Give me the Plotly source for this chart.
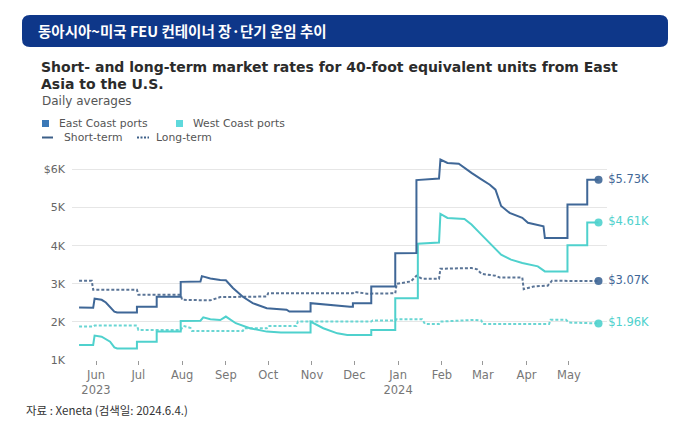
import plotly.graph_objects as go

# East Coast short-term (USD / FEU)
east_short_dates = [
    "2023-05-20", "2023-05-30", "2023-05-31", "2023-06-05", "2023-06-08", "2023-06-11",
    "2023-06-14", "2023-06-16", "2023-06-30", "2023-06-30", "2023-07-14", "2023-07-14",
    "2023-07-31", "2023-07-31", "2023-08-14", "2023-08-15", "2023-08-21", "2023-08-28",
    "2023-09-01", "2023-09-06", "2023-09-13", "2023-09-20", "2023-09-30", "2023-10-14",
    "2023-10-16", "2023-10-31", "2023-10-31", "2023-11-28", "2023-11-30", "2023-11-30",
    "2023-12-13", "2023-12-13", "2023-12-30", "2023-12-30", "2024-01-14", "2024-01-14",
    "2024-01-30", "2024-01-31", "2024-02-05", "2024-02-13", "2024-02-17", "2024-02-22",
    "2024-02-29", "2024-03-06", "2024-03-10", "2024-03-14", "2024-03-20", "2024-03-29",
    "2024-04-02", "2024-04-13", "2024-04-14", "2024-04-30", "2024-04-30", "2024-05-14",
    "2024-05-14", "2024-05-22",
]
east_short = [
    2380, 2370, 2610, 2580, 2510, 2400,
    2270, 2245, 2245, 2400, 2400, 2660,
    2660, 3050, 3060, 3200, 3140, 3100,
    3090, 2890, 2660, 2490, 2360, 2320,
    2270, 2270, 2490, 2400, 2400, 2490,
    2490, 2930, 2930, 3800, 3810, 5720,
    5760, 6260, 6170, 6150, 6040, 5910,
    5740, 5600, 5470, 5040, 4860, 4730,
    4600, 4510, 4200, 4200, 5080, 5080,
    5730, 5730,
]

# West Coast short-term
west_short_dates = [
    "2023-05-20", "2023-05-30", "2023-05-31", "2023-06-05", "2023-06-11", "2023-06-14",
    "2023-06-16", "2023-06-30", "2023-06-30", "2023-07-14", "2023-07-14", "2023-07-31",
    "2023-07-31", "2023-08-14", "2023-08-16", "2023-08-21", "2023-08-28", "2023-09-01",
    "2023-09-08", "2023-09-18", "2023-09-30", "2023-10-10", "2023-10-31", "2023-10-31",
    "2023-11-09", "2023-11-19", "2023-11-26", "2023-12-13", "2023-12-13", "2023-12-30",
    "2023-12-30", "2024-01-15", "2024-01-15", "2024-01-30", "2024-01-31", "2024-02-05",
    "2024-02-17", "2024-02-22", "2024-02-29", "2024-03-06", "2024-03-14", "2024-03-21",
    "2024-03-29", "2024-04-09", "2024-04-14", "2024-04-30", "2024-04-30", "2024-05-14",
    "2024-05-14", "2024-05-22",
]
west_short = [
    1395, 1395, 1640, 1610, 1480, 1330,
    1305, 1305, 1480, 1480, 1745, 1745,
    2026, 2030, 2120, 2070, 2050, 2140,
    1965, 1833, 1745, 1720, 1720, 2008,
    1833, 1700, 1658, 1658, 1790, 1790,
    2623, 2623, 4053, 4080, 4833, 4728,
    4700, 4553, 4290, 4070, 3763, 3632,
    3544, 3456, 3324, 3324, 4008, 4008,
    4610, 4610,
]

# East Coast long-term
east_long_dates = [
    "2023-05-20", "2023-05-29", "2023-05-30", "2023-06-30", "2023-07-01", "2023-07-31",
    "2023-08-01", "2023-08-21", "2023-08-28", "2023-09-30", "2023-10-01", "2023-11-30",
    "2023-12-01", "2023-12-10", "2023-12-30", "2023-12-31", "2024-01-10", "2024-01-14",
    "2024-01-18", "2024-01-30", "2024-01-31", "2024-02-22", "2024-02-26", "2024-02-29",
    "2024-03-10", "2024-03-13", "2024-03-29", "2024-03-30", "2024-04-06", "2024-04-16",
    "2024-04-19", "2024-05-22",
]
east_long = [
    3079, 3079, 2842, 2842, 2710, 2710,
    2579, 2565, 2650, 2666, 2754, 2754,
    2790, 2740, 2750, 3000, 3060, 3210,
    3130, 3130, 3395, 3412, 3380, 3263,
    3210, 3166, 3166, 2860, 2930, 2950,
    3079, 3070,
]

# West Coast long-term
west_long_dates = [
    "2023-05-20", "2023-05-30", "2023-05-31", "2023-06-30", "2023-07-01", "2023-07-31",
    "2023-08-02", "2023-08-07", "2023-08-08", "2023-09-13", "2023-09-14", "2023-09-30",
    "2023-10-01", "2023-10-21", "2023-10-22", "2023-12-13", "2023-12-14", "2023-12-30",
    "2023-12-31", "2024-01-18", "2024-01-20", "2024-01-30", "2024-01-31", "2024-02-20",
    "2024-02-24", "2024-02-29", "2024-03-01", "2024-04-17", "2024-04-18", "2024-04-29",
    "2024-05-01", "2024-05-22",
]
west_long = [
    1877, 1877, 1903, 1903, 1790, 1790,
    1895, 1840, 1763, 1763, 1833, 1833,
    1895, 1895, 2008, 2008, 2035, 2035,
    2070, 2070, 1947, 1947, 2008, 2030,
    2053, 2035, 1947, 1947, 2053, 2053,
    1982, 1960,
]

month_ticks = ["2023-06-01", "2023-07-01", "2023-08-01", "2023-09-01", "2023-10-01",
               "2023-11-01", "2023-12-01", "2024-01-01", "2024-02-01", "2024-03-01",
               "2024-04-01", "2024-05-01"]
month_labels = ["Jun<br>2023", "Jul", "Aug", "Sep", "Oct", "Nov", "Dec",
                "Jan<br>2024", "Feb", "Mar", "Apr", "May"]
y_ticks = [1000, 2000, 3000, 4000, 5000, 6000]
y_labels = ["1K", "2K", "3K", "4K", "5K", "$6K"]

EAST = "#3f6797"
EAST_LONG = "#5a7496"
WEST = "#4fd1cd"
WEST_LONG = "#6ad6d3"
FONT = "DejaVu Sans"

# plot area in pixels: x 72..607, y 158..360
L, R, T, B = 72, 81, 158, 75
W_PLOT, H_PLOT = 688 - L - R, 435 - T - B


def px(x):
    return (x - L) / W_PLOT


def py(y):
    return (435 - B - y) / H_PLOT


series = [
    (east_long_dates, east_long, EAST_LONG, "3px,2px", EAST),
    (west_long_dates, west_long, WEST_LONG, "3px,2px", WEST),
    (west_short_dates, west_short, WEST, "solid", WEST),
    (east_short_dates, east_short, EAST, "solid", EAST),
]

fig = go.Figure()
for dates, vals, col, dash, lab_col in series:
    fig.add_trace(go.Scatter(
        x=dates, y=vals, mode="lines",
        line=dict(color=col, width=2, dash=dash),
        hoverinfo="skip", showlegend=False,
    ))
    fig.add_trace(go.Scatter(
        x=[dates[-1]], y=[vals[-1]], mode="markers+text",
        marker=dict(color=lab_col, size=8, opacity=0.9),
        text=[" $%.2fK" % (vals[-1] / 1000)], textposition="middle right",
        textfont=dict(family=FONT, size=11.5, color=lab_col),
        cliponaxis=False, hoverinfo="skip", showlegend=False,
    ))

shapes = []
# navy header bar with rounded corners (pixels from paper origin)
shapes.append(dict(
    type="path", xref="paper", yref="paper", xsizemode="pixel", ysizemode="pixel",
    xanchor=0, yanchor=0,
    path="M -42,313 L 588,313 Q 596,313 596,321 L 596,337 Q 596,345 588,345 "
         "L -42,345 Q -50,345 -50,337 L -50,321 Q -50,313 -42,313 Z",
    fillcolor="#0e3789", line=dict(width=0), layer="above",
))
# legend swatches
shapes.append(dict(type="rect", xref="paper", yref="paper",
                   x0=px(42), x1=px(49), y0=py(127), y1=py(120),
                   fillcolor="#3a78b7", line=dict(width=0)))
shapes.append(dict(type="rect", xref="paper", yref="paper",
                   x0=px(176), x1=px(183), y0=py(127), y1=py(120),
                   fillcolor="#5fd9dc", line=dict(width=0)))
shapes.append(dict(type="line", xref="paper", yref="paper",
                   x0=px(42), x1=px(53), y0=py(137.5), y1=py(137.5),
                   line=dict(color="#3c5f88", width=2)))
shapes.append(dict(type="line", xref="paper", yref="paper",
                   x0=px(137), x1=px(149), y0=py(137.5), y1=py(137.5),
                   line=dict(color="#3c5f88", width=2, dash="2px,1.5px")))

annotations = [
    dict(text="<b>동아시아~미국 FEU 컨테이너 장·단기 운임 추이</b>",
         x=px(36), y=py(30), xanchor="left", yanchor="middle",
         font=dict(family="Noto Sans CJK KR", size=14.5, color="white")),
    dict(text="<b>Short- and long-term market rates for 40-foot equivalent units from East</b>",
         x=px(39), y=py(67), xanchor="left", yanchor="middle",
         font=dict(family=FONT, size=14, color="#2b2b2b")),
    dict(text="<b>Asia to the U.S.</b>",
         x=px(39), y=py(84.5), xanchor="left", yanchor="middle",
         font=dict(family=FONT, size=14, color="#2b2b2b")),
    dict(text="Daily averages", x=px(40), y=py(101), xanchor="left", yanchor="middle",
         font=dict(family=FONT, size=12, color="#555")),
    dict(text="East Coast ports", x=px(57), y=py(123.5), xanchor="left", yanchor="middle",
         font=dict(family=FONT, size=10.8, color="#555")),
    dict(text="West Coast ports", x=px(191), y=py(123.5), xanchor="left", yanchor="middle",
         font=dict(family=FONT, size=10.8, color="#555")),
    dict(text="Short-term", x=px(62), y=py(137.5), xanchor="left", yanchor="middle",
         font=dict(family=FONT, size=10.8, color="#555")),
    dict(text="Long-term", x=px(154), y=py(137.5), xanchor="left", yanchor="middle",
         font=dict(family=FONT, size=10.8, color="#555")),
    dict(text="자료 : Xeneta (검색일: 2024.6.4.)", x=px(24), y=py(410),
         xanchor="left", yanchor="middle",
         font=dict(family="Noto Sans CJK KR", size=11.5, color="#333")),
]
for a in annotations:
    a.update(xref="paper", yref="paper", showarrow=False)

fig.update_layout(
    width=688, height=435,
    margin=dict(l=L, r=R, t=T, b=B),
    paper_bgcolor="white", plot_bgcolor="white",
    shapes=shapes, annotations=annotations,
    xaxis=dict(
        type="date", range=["2023-05-15", "2024-05-28"],
        tickvals=month_ticks, ticktext=month_labels,
        showgrid=False, zeroline=False, showline=False,
        ticks="outside", ticklen=4, tickcolor="#999",
        tickfont=dict(family=FONT, size=11.5, color="#777"),
    ),
    yaxis=dict(
        range=[1000, 6300], tickvals=y_ticks, ticktext=y_labels,
        showgrid=True, gridcolor="#e6e6e6", gridwidth=1,
        zeroline=False, showline=False, ticks="", ticklabelstandoff=6,
        tickfont=dict(family=FONT, size=11, color="#666"),
    ),
)

# page body margin would push the figure 8px off the corner
fig.write_html("out.html", config={"displayModeBar": False},
               post_script="document.body.style.margin='0px';")
